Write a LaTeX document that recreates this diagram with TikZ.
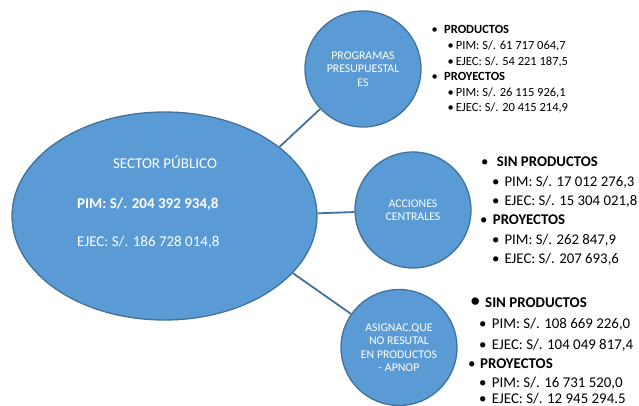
\documentclass[tikz,border=0pt]{standalone}
\usepackage{fontspec}
\setmainfont{Carlito}
\usetikzlibrary{shapes.geometric}

\definecolor{bubblefill}{HTML}{5B9BD5}
\definecolor{bubbleline}{HTML}{41719C}
\newcommand{\itm}[2]{\makebox[#1][l]{\textbullet}#2}

\begin{document}
\begin{tikzpicture}[x=1pt,y=-1pt,
  bubble/.style={circle,fill=bubblefill,draw=bubbleline,line width=1.3pt,minimum size=116pt,inner sep=0pt,text=white,align=center,font=\fontsize{11.8}{13.5}\selectfont},
  link/.style={draw=bubbleline,line width=1.8pt},
  txt/.style={anchor=base west,inner sep=0pt},
  intxt/.style={inner sep=0pt,text=white,font=\fontsize{15}{18}\selectfont}]
\useasboundingbox (0,0) rectangle (639,406);

%--------------------------------------------------- shapes
\node[ellipse,fill=bubblefill,draw=bubbleline,line width=1.3pt,minimum width=305pt,minimum height=208pt,inner sep=0pt] (sector) at (164.5,216) {};
\node[bubble] (prog)  at (363,69)  {PROGRAMAS\\PRESUPUESTAL\\ES};
\node[bubble] (acc)   at (413,210) {ACCIONES\\CENTRALES};
\node[bubble] (apnop) at (399,347.5) {ASIGNAC.QUE\\NO RESUTAL\\EN PRODUCTOS\\- APNOP};

\draw[link] (sector.31)  -- (prog);
\draw[link] (sector.1.5) -- (acc);
\draw[link] (sector.-24) -- (apnop);

\node[intxt,anchor=base] (sectitle) at (165,168) {SECTOR PÚBLICO};
\node[intxt,anchor=base west] (secpim) at (77,208) {\textbf{PIM: S/. 204 392 934,8}};
\node[intxt,anchor=base west] (secejec) at (77,246) {EJEC: S/. 186 728 014,8};

%--------------------------------------------------- programas
\begin{scope}[font=\fontsize{12.5}{15}\selectfont]
\node[txt] (pa) at (431.5,34)  {\itm{12.5pt}{\textbf{PRODUCTOS}}};
\node[txt] (pb) at (447.5,49.6){\itm{8.2pt}{PIM: S/. 61 717 064,7}};
\node[txt] (pc) at (447.5,65.2){\itm{8.2pt}{EJEC: S/. 54 221 187,5}};
\node[txt] (pd) at (431.5,80.8){\itm{12.5pt}{\textbf{PROYECTOS}}};
\node[txt] (pe) at (447.5,96.4){\itm{8.2pt}{PIM: S/. 26 115 926,1}};
\node[txt] (pf) at (447.5,112) {\itm{8.2pt}{EJEC: S/. 20 415 214,9}};
\end{scope}

%--------------------------------------------------- acciones centrales
\begin{scope}[font=\fontsize{14.8}{18}\selectfont]
\node[txt] (aa) at (481,167)   {\itm{15.7pt}{\textbf{SIN PRODUCTOS}}};
\node[txt] (ab) at (492,186)   {\itm{12.3pt}{PIM: S/. 17 012 276,3}};
\node[txt] (ac) at (492,205.5) {\itm{12.3pt}{EJEC: S/. 15 304 021,8}};
\node[txt] (ad) at (480,224.5) {\itm{12.7pt}{\textbf{PROYECTOS}}};
\node[txt] (ae) at (492,244)   {\itm{12.3pt}{PIM: S/. 262 847,9}};
\node[txt] (af) at (492,263)   {\itm{12.3pt}{EJEC: S/. 207 693,6}};
\end{scope}

%--------------------------------------------------- apnop
\begin{scope}[font=\fontsize{14.9}{18}\selectfont]
\node[txt] (na) at (470,307)   {\makebox[15pt][l]{\fontsize{21}{21}\selectfont\textbullet}\textbf{SIN PRODUCTOS}};
\node[txt] (nb) at (479,328)   {\itm{12.7pt}{PIM: S/. 108 669 226,0}};
\node[txt] (nc) at (479,349)   {\itm{12.7pt}{EJEC: S/. 104 049 817,4}};
\node[txt] (nd) at (468,368)   {\itm{12pt}{\textbf{PROYECTOS}}};
\node[txt] (ne) at (479,387)   {\itm{12.7pt}{PIM: S/. 16 731 520,0}};
\node[txt] (nf) at (479,403)   {\itm{12.7pt}{EJEC: S/. 12 945 294.5}};
\end{scope}
\end{tikzpicture}
\end{document}
